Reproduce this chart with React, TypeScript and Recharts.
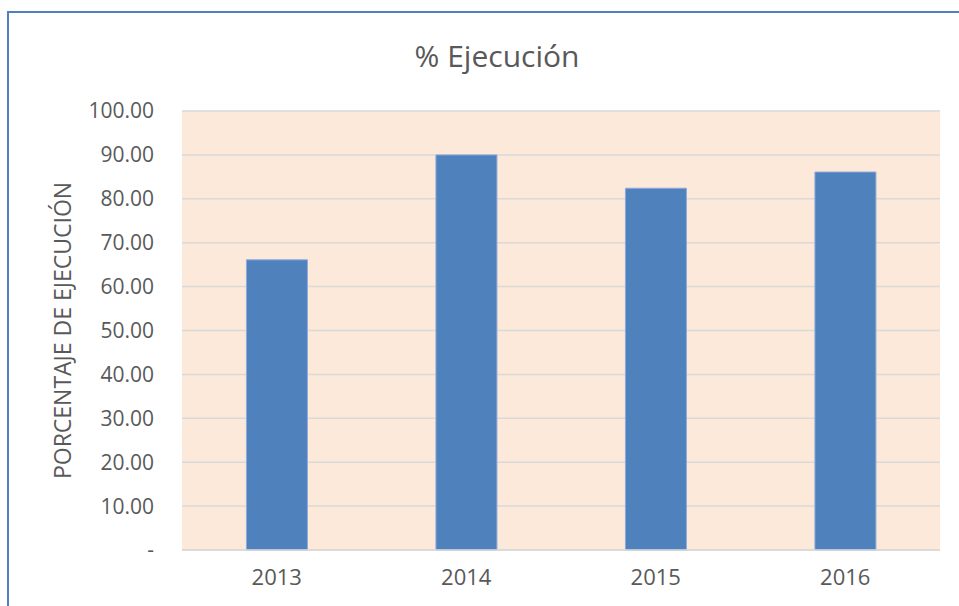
import React from 'react';
import { BarChart, Bar, XAxis, YAxis, CartesianGrid } from 'recharts';

const years = ['2013', '2014', '2015', '2016'];
const ejecucion = [66.1, 90.0, 82.4, 86.1];
const yTicks = [0, 10, 20, 30, 40, 50, 60, 70, 80, 90, 100];

const data = years.map((year, i) => ({ year, value: ejecucion[i] }));

const FONT = '"Open Sans", sans-serif';
const TEXT = '#595959';

const fmt = (v: number) => (v === 0 ? '-' : v.toFixed(2));

export default function App() {
  return (
    <div style={{ position: 'absolute', left: 0, top: 0, width: 959, height: 606, overflow: 'hidden', background: '#fff', fontFamily: FONT }}>
      <div style={{ position: 'absolute', left: 7, top: 11, width: 1000, height: 700, border: '2px solid #4F81BD' }} />
      <div style={{ position: 'absolute', left: 297, width: 400, top: 35, textAlign: 'center', fontSize: 30, color: TEXT }}>
        % Ejecución
      </div>
      <div style={{ position: 'absolute', left: 0, top: 0 }}>
        <BarChart width={959} height={606} data={data} margin={{ top: 111, right: 19, bottom: 26, left: 30 }} barCategoryGap="34%">
          <CartesianGrid vertical={false} stroke="#D9D9D9" strokeWidth={1.5} fill="#FDE9D9" fillOpacity={1} />
          <XAxis
            dataKey="year"
            axisLine={{ stroke: '#D9D9D9', strokeWidth: 1.5 }}
            tickLine={false}
            tickSize={0}
            tickMargin={19}
            height={30}
            tick={{ fill: TEXT, fontSize: 22, fontFamily: FONT }}
          />
          <YAxis
            domain={[0, 100]}
            ticks={yTicks}
            tickFormatter={fmt}
            axisLine={false}
            tickLine={false}
            tickSize={0}
            tickMargin={28}
            width={152}
            tick={{ fill: TEXT, fontSize: 21, fontFamily: FONT }}
            label={{
              value: 'PORCENTAJE DE EJECUCIÓN',
              angle: -90,
              position: 'insideLeft',
              offset: 33,
              style: { textAnchor: 'middle', fill: TEXT, fontSize: 23, fontFamily: FONT },
            }}
          />
          <Bar dataKey="value" fill="#4F81BD" stroke="#8EAADB" strokeWidth={1} isAnimationActive={false} />
        </BarChart>
      </div>
    </div>
  );
}
